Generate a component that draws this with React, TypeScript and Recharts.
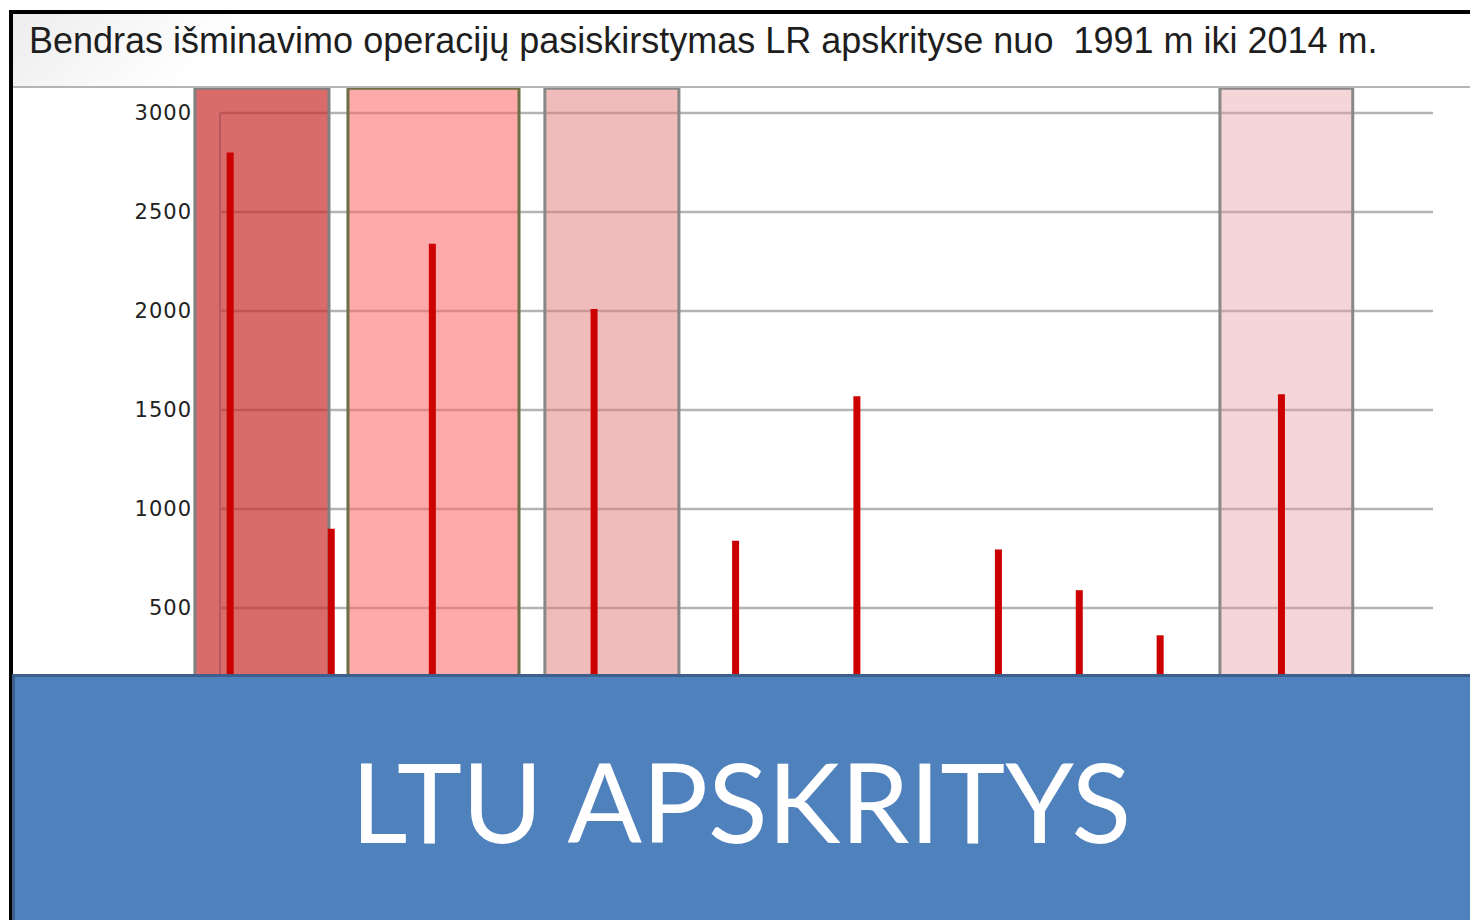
import React from "react"
import { ComposedChart, Bar, XAxis, YAxis, CartesianGrid, ReferenceArea } from "recharts"

// slot of each county bar on the 60-place axis, and its value
const slots = [1, 6, 11, 19, 26, 32, 39, 43, 47, 53]
const operations = [2800, 900, 2340, 2010, 840, 1570, 796, 590, 362, 1580]
const yTicks = [0, 500, 1000, 1500, 2000, 2500, 3000]

// highlighted groups of counties (in slot units)
const highlightFrom = [-0.74, 6.83, 16.57, 49.96]
const highlightTo = [5.89, 15.29, 23.2, 56.53]
const highlightFill = ["#c82828", "#ff6464", "#e17878", "#e6969b"]
const highlightOpacity = [0.69, 0.55, 0.5, 0.4]
const highlightStroke = ["#808080", "#6e6e46", "#888888", "#888888"]

const title = "Bendras išminavimo operacijų pasiskirstymas LR apskrityse nuo  1991 m iki 2014 m."
const banner = "LTU APSKRITYS"

export default function App() {
  const chartData = slots.map((slot, i) => ({ slot, value: operations[i] }))

  return (
    <div style={{ position: "absolute", left: 0, top: 0, width: 1470, height: 920, background: "#fff", overflow: "hidden" }}>
      {/* faint shading behind the title, like the slide */}
      <div
        style={{
          position: "absolute",
          left: 13,
          top: 14,
          width: 600,
          height: 72,
          background: "linear-gradient(135deg, #ededed 0%, #ffffff 35%)",
        }}
      />
      <ComposedChart
        width={1470}
        height={920}
        data={chartData}
        margin={{ top: 113, right: 37, bottom: 213, left: 160 }}
        style={{ position: "absolute", left: 0, top: 0 }}
      >
        <CartesianGrid horizontal vertical={false} stroke="#b4b4b4" strokeWidth={2.5} />
        <XAxis dataKey="slot" type="number" domain={[0.5, 60.5]} hide />
        <YAxis
          width={60}
          domain={[0, 3000]}
          ticks={yTicks}
          axisLine={{ stroke: "#b45a5a", strokeWidth: 2 }}
          tickLine={false}
          tickSize={6}
          tickMargin={22}
          tick={{ fontSize: 21, fill: "#222", fontFamily: "DejaVu Sans", letterSpacing: 1 }}
        />
        {highlightFrom.map((x1, i) => (
          <ReferenceArea
            key={i}
            x1={x1}
            x2={highlightTo[i]}
            y1={0}
            y2={3125}
            ifOverflow="visible"
            fill={highlightFill[i]}
            fillOpacity={highlightOpacity[i]}
            stroke={highlightStroke[i]}
            strokeWidth={3}
          />
        ))}
        <Bar dataKey="value" fill="#cc0000" barSize={7} isAnimationActive={false} />
      </ComposedChart>

      {/* slide frame */}
      <div style={{ position: "absolute", left: 9, top: 10, width: 1470, height: 920, borderLeft: "4px solid #000", borderTop: "4px solid #000" }} />
      <div style={{ position: "absolute", left: 13, top: 86, width: 1460, height: 2, background: "#b4b4b4" }} />
      <div
        style={{
          position: "absolute",
          left: 29,
          top: 20,
          fontFamily: "Liberation Sans",
          fontSize: 36,
          color: "#1e1e1e",
          whiteSpace: "pre",
        }}
      >
        {title}
      </div>

      <div
        style={{
          position: "absolute",
          left: 12,
          top: 674,
          width: 1470,
          height: 260,
          background: "#4f81bd",
          border: "3px solid #3c5f8c",
          boxSizing: "border-box",
        }}
      />
      <div
        style={{
          position: "absolute",
          left: 12,
          width: 1458,
          top: 730,
          textAlign: "center",
          fontFamily: "Lato",
          fontSize: 110,
          color: "#fff",
          lineHeight: "140px",
        }}
      >
        {banner}
      </div>
    </div>
  )
}
